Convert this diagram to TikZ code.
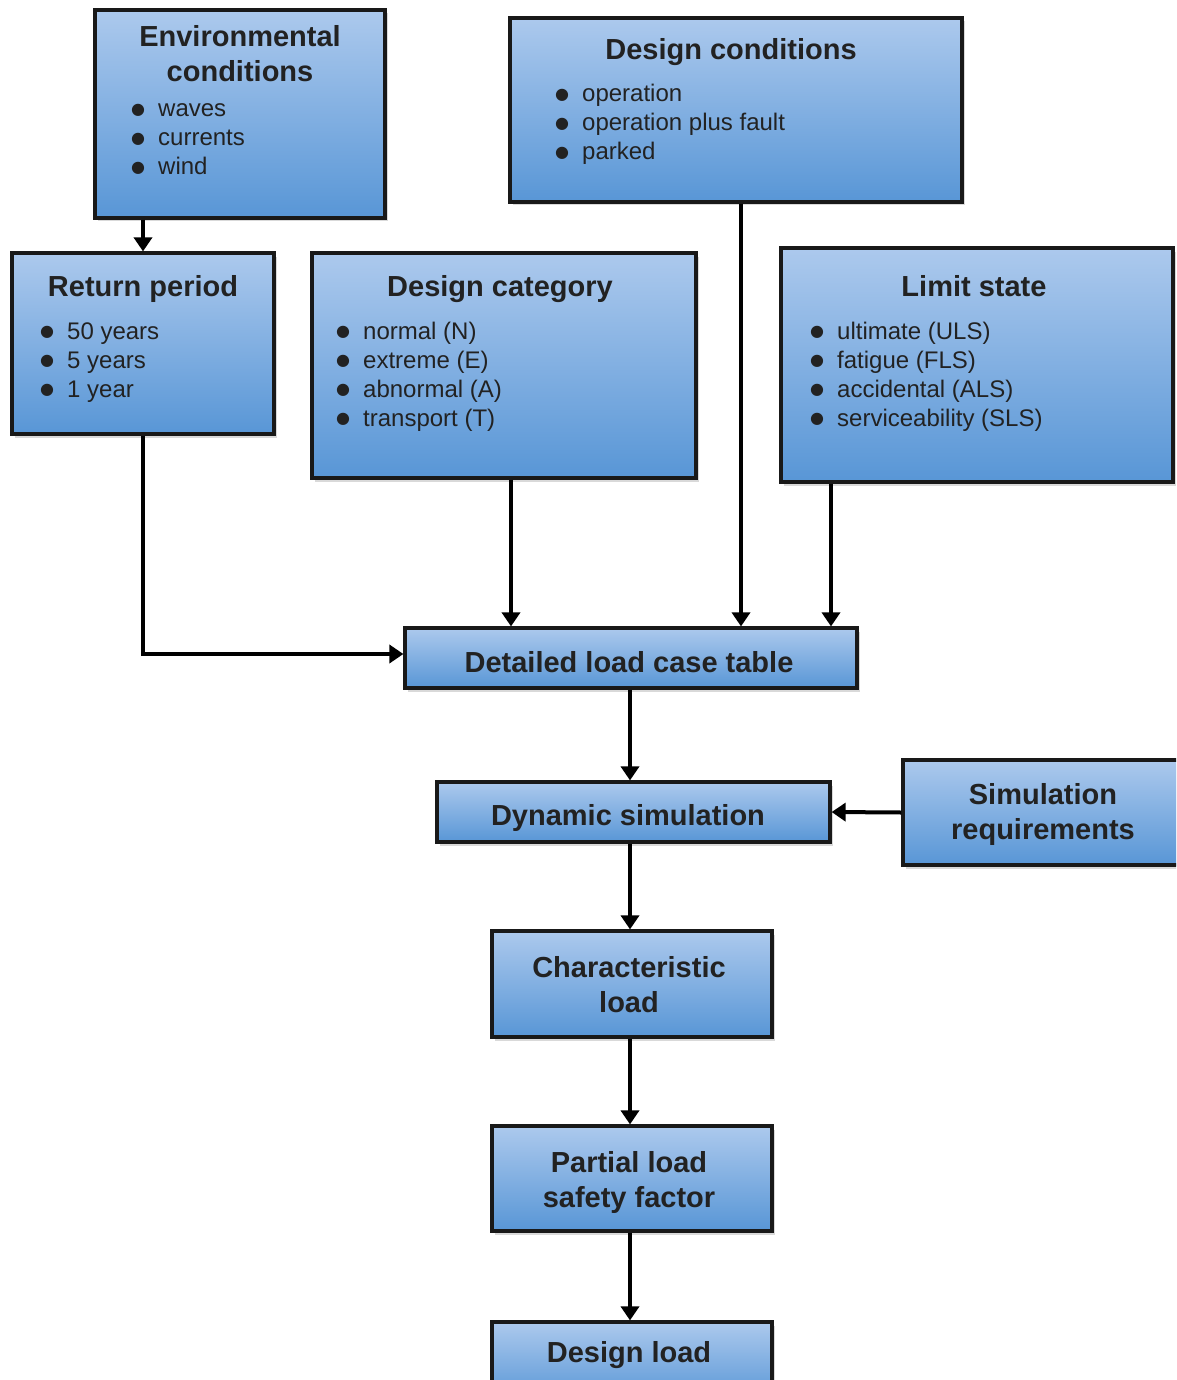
\documentclass[tikz,border=0pt]{standalone}
\usepackage{fontspec}
\setmainfont{Liberation Sans}
\newfontfamily\dvs{DejaVu Sans}
\usetikzlibrary{arrows.meta,shadows}
\definecolor{btop}{RGB}{172,201,237}
\definecolor{bbot}{RGB}{88,150,214}
\definecolor{txt}{RGB}{34,34,34}
\newcommand\bul{\makebox[20pt][c]{\raisebox{2.5pt}{\dvs\fontsize{16}{16}\selectfont ●}}\hspace{10pt}}
\tikzset{
  box/.style={draw=black!90, line width=3.2pt, top color=btop, bottom color=bbot,
    drop shadow={shadow xshift=2.5pt, shadow yshift=-3.5pt, opacity=0.3}, inner sep=0pt},
  conn/.style={line width=4pt, -{Triangle[length=14pt,width=18pt]}},
  ttl/.style={font=\fontsize{29}{35}\selectfont\bfseries, anchor=base, inner sep=0pt, text=txt},
  itm/.style={font=\fontsize{24}{29}\selectfont, anchor=base west, inner sep=0pt, text=txt},
}
\begin{document}
\begin{tikzpicture}[x=1pt,y=-1pt]
\useasboundingbox (0,0) rectangle (1176,1380);
\clip (0,0) rectangle (1176,1380);
% boxes
\node[box, minimum width=290pt, minimum height=208pt] (env) at (240,114) {};
\node[box, minimum width=452pt, minimum height=184pt] (dcond) at (736,110) {};
\node[box, minimum width=262pt, minimum height=181pt] (ret) at (143,343.5) {};
\node[box, minimum width=384pt, minimum height=225pt] (dcat) at (504,365.5) {};
\node[box, minimum width=392pt, minimum height=234pt] (lim) at (977,365) {};
\node[box, minimum width=452pt, minimum height=60pt] (dlct) at (631,658) {};
\node[box, minimum width=393pt, minimum height=60pt] (dyn) at (633.5,812) {};
\node[box, minimum width=292pt, minimum height=105pt] (simr) at (1049,812.5) {};
\node[box, minimum width=280pt, minimum height=106pt] (char) at (632,984) {};
\node[box, minimum width=280pt, minimum height=105pt] (part) at (632,1178.5) {};
\node[box, minimum width=280pt, minimum height=80pt] (dload) at (632,1362) {};
% texts: environmental conditions
\node[ttl] (envt1) at (240,47) {Environmental};
\node[ttl] (envt2) at (240,82) {conditions};
\node[itm] (envi1) at (128,117) {\bul waves};
\node[itm] (envi2) at (128,146) {\bul currents};
\node[itm] (envi3) at (128,175) {\bul wind};
% design conditions
\node[ttl] (dct) at (731,60) {Design conditions};
\node[itm] (dci1) at (552,102) {\bul operation};
\node[itm] (dci2) at (552,131) {\bul operation plus fault};
\node[itm] (dci3) at (552,160) {\bul parked};
% return period
\node[ttl] (rpt) at (143,296) {Return period};
\node[itm] (rpi1) at (37,339) {\bul 50 years};
\node[itm] (rpi2) at (37,368) {\bul 5 years};
\node[itm] (rpi3) at (37,397) {\bul 1 year};
% design category
\node[ttl] (dcatt) at (500,296) {Design category};
\node[itm] (dcati1) at (333,339) {\bul normal (N)};
\node[itm] (dcati2) at (333,368) {\bul extreme (E)};
\node[itm] (dcati3) at (333,397) {\bul abnormal (A)};
\node[itm] (dcati4) at (333,426) {\bul transport (T)};
% limit state
\node[ttl] (lst) at (974,296) {Limit state};
\node[itm] (lsi1) at (807,339) {\bul ultimate (ULS)};
\node[itm] (lsi2) at (807,368) {\bul fatigue (FLS)};
\node[itm] (lsi3) at (807,397) {\bul accidental (ALS)};
\node[itm] (lsi4) at (807,426) {\bul serviceability (SLS)};
% single boxes
\node[ttl] (dlctt) at (629,672) {Detailed load case table};
\node[ttl] (dynt) at (628,825) {Dynamic simulation};
\node[ttl] (simrt1) at (1043,804) {Simulation};
\node[ttl] (simrt2) at (1043,839) {requirements};
\node[ttl] (chart1) at (629,977) {Characteristic};
\node[ttl] (chart2) at (629,1012) {load};
\node[ttl] (partt1) at (629,1172) {Partial load};
\node[ttl] (partt2) at (629,1207) {safety factor};
\node[ttl] (dloadt) at (629,1362) {Design load};
% connectors
\draw[conn] (env.south -| ret.north) -- (ret.north);
\draw[conn] (ret.south) |- ([yshift=4pt]dlct.west);
\draw[conn] ([xshift=7pt]dcat.south) -- ([xshift=7pt]dcat.south |- dlct.north);
\draw[conn] ([xshift=5pt]dcond.south) -- ([xshift=5pt]dcond.south |- dlct.north);
\draw[conn] ([xshift=-146pt]lim.south) -- ([xshift=-146pt]lim.south |- dlct.north);
\draw[conn] ([xshift=-1pt]dlct.south) -- ([xshift=-1pt]dlct.south |- dyn.north);
\draw[conn] (simr.west) -- (dyn.east);
\draw[conn] ([xshift=-2pt]char.north |- dyn.south) -- ([xshift=-2pt]char.north);
\draw[conn] ([xshift=-2pt]char.south) -- ([xshift=-2pt]part.north);
\draw[conn] ([xshift=-2pt]part.south) -- ([xshift=-2pt]dload.north);
\end{tikzpicture}
\end{document}
